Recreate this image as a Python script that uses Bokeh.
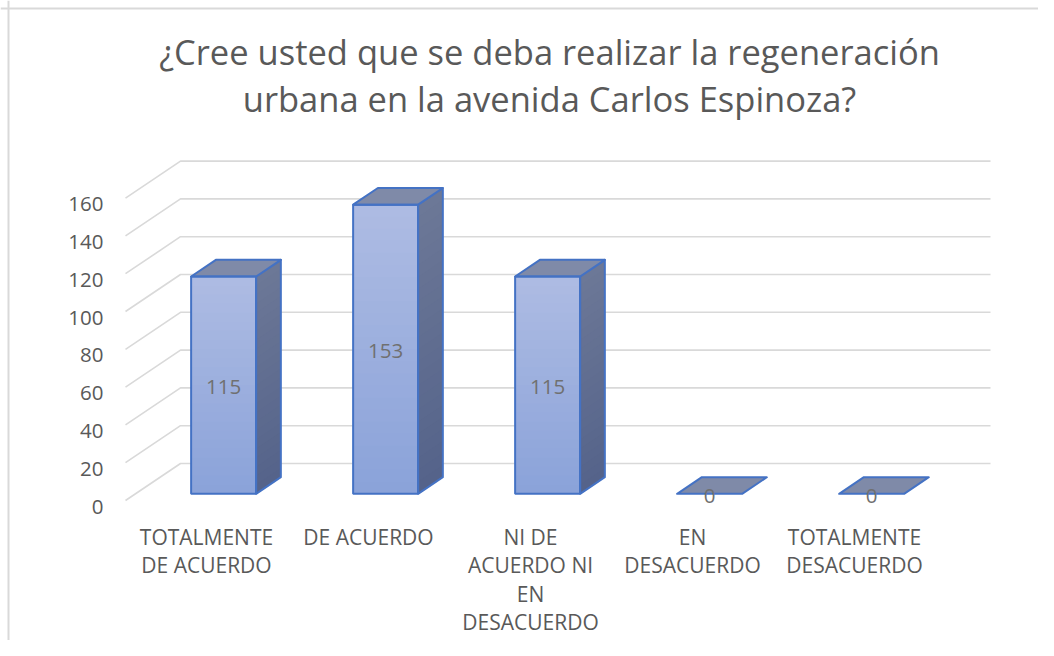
from bokeh.plotting import figure
from bokeh.models import Range1d, Span, ColumnDataSource
from bokeh.core.properties import value
from bokeh.embed import file_html
from bokeh.resources import INLINE

# ---------------- data ----------------
title_text = "¿Cree usted que se deba realizar la regeneración\nurbana en la avenida Carlos Espinoza?"
categories = ["TOTALMENTE\nDE ACUERDO", "DE ACUERDO", "NI DE\nACUERDO NI\nEN\nDESACUERDO",
              "EN\nDESACUERDO", "TOTALMENTE\nDESACUERDO"]
counts = [115, 153, 115, 0, 0]
y_ticks = [0, 20, 40, 60, 80, 100, 120, 140, 160]

# ---------------- geometry / style ----------------
W, H = 1038, 640
PX_CAT = 162.0        # pixels per category slot (front plane)
PX_UNIT = 1.89        # pixels per value unit
FX0, FY0 = 125.0, 500.0   # front-plane origin in plot pixels (from top-left)
DX = 55.0 / PX_CAT    # depth offset of back wall (category units)
DY = 37.0 / PX_UNIT   # depth offset of back wall (value units)
D_FRONT, D_BACK = 0.18, 0.63
BAR_L, BAR_R = 0.344, 0.745

FONT = "Open Sans"
TXT = "#595959"
GRID = "#d9d9d9"
EDGE = "#4472c4"

def pu(px):   # pixels -> value units
    return px / PX_UNIT

def pc(px):   # pixels -> category units
    return px / PX_CAT

p = figure(width=W, height=H, output_backend="svg", toolbar_location=None,
           x_range=Range1d(-FX0 / PX_CAT, (W - FX0) / PX_CAT),
           y_range=Range1d(-(H - FY0) / PX_UNIT, FY0 / PX_UNIT),
           min_border=0, tools="")
p.axis.visible = False
p.grid.visible = False
p.outline_line_color = None
p.background_fill_color = "white"
p.border_fill_color = "white"

# chart border (left / top visible in reference)
p.add_layout(Span(location=pc(8 - FX0), dimension="height", line_color=GRID, line_width=2))
p.add_layout(Span(location=pu(FY0 - 8), dimension="width", line_color=GRID, line_width=2))

# ---------------- gridlines (back wall + floor-side diagonals) ----------------
n = len(categories)
gx, gy = [], []
for t in y_ticks:
    gx.append([0, DX, n + DX])
    gy.append([t, t + DY, t + DY])
p.multi_line(gx, gy, line_color=GRID, line_width=1.6)

# y tick labels
p.text(x=[pc(-22)] * len(y_ticks), y=[t - pu(6) for t in y_ticks], text=[str(t) for t in y_ticks],
       text_font=value(FONT), text_font_size="20.5px", text_color=TXT,
       text_align="right", text_baseline="middle")

# ---------------- 3D bars ----------------
fdx, fdy = D_FRONT * DX, D_FRONT * DY
bdx, bdy = D_BACK * DX, D_BACK * DY

def mix(c1, c2, t):
    a = [int(c1[i:i + 2], 16) for i in (1, 3, 5)]
    b = [int(c2[i:i + 2], 16) for i in (1, 3, 5)]
    return "#%02x%02x%02x" % tuple(round(a[k] + (b[k] - a[k]) * t) for k in range(3))

NS = 24
front_bot, front_top = "#8aa2d9", "#aebce3"
side_bot, side_top = "#55638a", "#6c7897"
top_col = "#7f8aa8"

fq = dict(left=[], right=[], bottom=[], top=[], color=[])
sx, sy, sc = [], [], []
for i, v in enumerate(counts):
    x0, x1 = i + BAR_L, i + BAR_R
    if v > 0:
        for k in range(NS):
            t0, t1 = v * k / NS, v * (k + 1) / NS
            ov = 1.2 if k < NS - 1 else 0
            fq["left"].append(x0 + fdx); fq["right"].append(x1 + fdx)
            fq["bottom"].append(t0 + fdy); fq["top"].append(t1 + fdy + ov)
            fq["color"].append(mix(front_bot, front_top, (k + 0.5) / NS))
            sx.append([x1 + fdx, x1 + bdx, x1 + bdx, x1 + fdx])
            sy.append([t0 + fdy, t0 + bdy, t1 + bdy + ov, t1 + fdy + ov])
            sc.append(mix(side_bot, side_top, (k + 0.5) / NS))

p.patches(sx, sy, fill_color=sc, line_color=None)
p.quad(source=ColumnDataSource(fq), left="left", right="right", bottom="bottom", top="top",
       fill_color="color", line_color=None)

# outlines: side, top, front
ox_side, oy_side, ox_top, oy_top = [], [], [], []
fl, fr, fb, ft = [], [], [], []
for i, v in enumerate(counts):
    x0, x1 = i + BAR_L, i + BAR_R
    ox_top.append([x0 + fdx, x1 + fdx, x1 + bdx, x0 + bdx])
    oy_top.append([v + fdy, v + fdy, v + bdy, v + bdy])
    if v > 0:
        ox_side.append([x1 + fdx, x1 + bdx, x1 + bdx, x1 + fdx])
        oy_side.append([fdy, bdy, v + bdy, v + fdy])
        fl.append(x0 + fdx); fr.append(x1 + fdx); fb.append(fdy); ft.append(v + fdy)

p.patches(ox_side, oy_side, fill_color=None, line_color=EDGE, line_width=2, line_join="round")
p.patches(ox_top, oy_top, fill_color=top_col, line_color=EDGE, line_width=2, line_join="round")
p.quad(left=fl, right=fr, bottom=fb, top=ft, fill_color=None, line_color=EDGE, line_width=2)

# data labels
p.text(x=[i + (BAR_L + BAR_R) / 2 + fdx for i in range(n)],
       y=[v / 2 + fdy - pu(2) for v in counts],
       text=[str(v) for v in counts],
       text_font=value(FONT), text_font_size="20.5px", text_color="#707070",
       text_align="center", text_baseline="middle")

# category labels
p.text(x=[i + 0.5 for i in range(n)], y=[pu(FY0 - 522)] * n, text=categories,
       text_font=value(FONT), text_font_size="21px", text_color=TXT,
       text_align="center", text_baseline="top", text_line_height=1.02)

# title
p.text(x=[pc(549 - FX0)], y=[pu(FY0 - 27)], text=[title_text],
       text_font=value(FONT), text_font_size="34.5px", text_color=TXT,
       text_align="center", text_baseline="top", text_line_height=1.0)

open("out.html", "w").write(file_html(p, INLINE))
